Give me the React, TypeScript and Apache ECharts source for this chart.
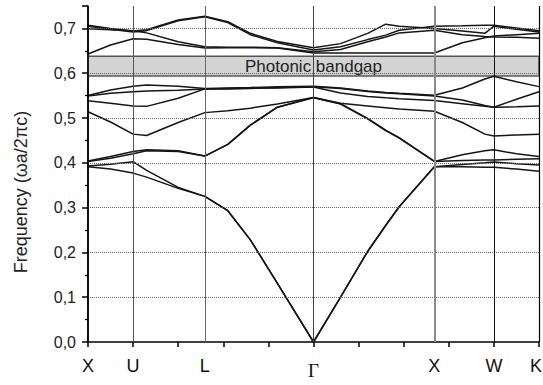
import React, { useEffect, useRef } from "react";
import * as echarts from "echarts";

// k-path positions (normalised path length 0..10)
const kPos = [0, 0.5, 1.0, 1.3, 2.0, 2.59, 3.1, 3.6, 4.2, 5.0, 5.6, 6.2, 6.6, 6.9, 7.68, 8.3, 8.8, 9.0, 9.5, 10];

// high-symmetry points
const symLabels = ["X", "U", "L", "Γ", "X", "W", "K"];
const symK = [0, 1.0, 2.59, 5.0, 7.68, 9.0, 10];

// y grid values
const yGrid = [0.1, 0.2, 0.3, 0.4, 0.5, 0.6, 0.7];

// photonic bandgap (lower, upper)
const gapRange = [0.594, 0.638];
const gapLabel = "Photonic bandgap";

// bands (frequency ωa/2πc) at kPos
const band1 = [0.391, 0.386, 0.377, 0.368, 0.343, 0.325, 0.293, 0.228, 0.131, 0, 0.100, 0.202, 0.260, 0.302, 0.391, 0.391, 0.390, 0.390, 0.386, 0.381];
const band2 = [0.393, 0.397, 0.4026, 0.383, 0.345, 0.325, 0.293, 0.228, 0.131, 0, 0.100, 0.202, 0.260, 0.302, 0.391, 0.396, 0.400, 0.402, 0.398, 0.395];
const band3 = [0.403, 0.410, 0.420, 0.427, 0.425, 0.415, 0.441, 0.484, 0.524, 0.545, 0.531, 0.498, 0.472, 0.455, 0.403, 0.405, 0.406, 0.406, 0.408, 0.409];
const band4 = [0.404, 0.414, 0.425, 0.429, 0.427, 0.415, 0.441, 0.484, 0.524, 0.546, 0.532, 0.499, 0.473, 0.456, 0.403, 0.418, 0.427, 0.429, 0.420, 0.414];
const band5 = [0.514, 0.491, 0.464, 0.461, 0.490, 0.512, 0.516, 0.522, 0.531, 0.546, 0.533, 0.527, 0.523, 0.520, 0.515, 0.490, 0.464, 0.460, 0.462, 0.464];
const band6 = [0.5386, 0.533, 0.5267, 0.526, 0.544, 0.565, 0.565, 0.566, 0.567, 0.569, 0.556, 0.548, 0.545, 0.543, 0.539, 0.532, 0.526, 0.524, 0.525, 0.5267];
const band7 = [0.549, 0.555, 0.5587, 0.560, 0.562, 0.565, 0.566, 0.567, 0.568, 0.570, 0.566, 0.559, 0.556, 0.554, 0.549, 0.540, 0.528, 0.524, 0.542, 0.5587];
const band8 = [0.550, 0.5625, 0.571, 0.5736, 0.571, 0.566, 0.567, 0.568, 0.570, 0.571, 0.567, 0.560, 0.557, 0.555, 0.551, 0.567, 0.587, 0.593, 0.581, 0.570];
const band9 = [0.643, 0.663, 0.677, 0.676, 0.664, 0.656, 0.657, 0.657, 0.656, 0.645, 0.645, 0.645, 0.645, 0.645, 0.645, 0.668, 0.679, 0.683, 0.686, 0.689];
const band10 = [0.699, 0.697, 0.695, 0.690, 0.670, 0.659, 0.658, 0.658, 0.657, 0.648, 0.653, 0.670, 0.681, 0.690, 0.696, 0.686, 0.682, 0.681, 0.680, 0.678];
const band11 = [0.705, 0.698, 0.692, 0.695, 0.717, 0.726, 0.713, 0.686, 0.668, 0.652, 0.659, 0.675, 0.685, 0.696, 0.705, 0.706, 0.707, 0.707, 0.701, 0.695];
const band12 = [0.707, 0.700, 0.694, 0.697, 0.719, 0.727, 0.715, 0.689, 0.671, 0.657, 0.666, 0.689, 0.7095, 0.705, 0.700, 0.694, 0.689, 0.705, 0.698, 0.692];

const bands = [band1, band2, band3, band4, band5, band6, band7, band8, band9, band10, band11, band12];

const FONT = "'Liberation Sans', Arial, sans-serif";
const SERIF = "'Liberation Serif', 'Times New Roman', serif";
const symLineStyles = [
  { color: "#000", width: 1.5 },
  { color: "#555", width: 1 },
  { color: "#666", width: 1 },
  { color: "#444", width: 1 },
  { color: "#8a8a8a", width: 2 },
  { color: "#111", width: 1 },
  { color: "#000", width: 1.2 },
];

export default function App() {
  const ref = useRef<HTMLDivElement>(null);
  useEffect(() => {
    if (!ref.current) return;
    const chart = echarts.init(ref.current, undefined, { renderer: "svg" });
    const bandSeries = bands.map((b, i) => ({
      type: "line",
      name: "band" + (i + 1),
      data: b.map((v, j) => [kPos[j], v]),
      showSymbol: false,
      symbol: "none",
      lineStyle: { color: "#151515", width: 1.5 },
      z: 4,
      silent: true,
    }));
    chart.setOption({
      animation: false,
      textStyle: { fontFamily: FONT },
      grid: { left: 88, right: 4, top: 6, bottom: 43 },
      xAxis: {
        type: "value",
        min: 0,
        max: 10,
        interval: 1,
        axisLine: { show: true, lineStyle: { color: "#000", width: 1.5 } },
        axisTick: { show: true, length: 5, lineStyle: { color: "#000", width: 1.5 } },
        axisLabel: { show: false },
        splitLine: { show: false },
      },
      yAxis: {
        type: "value",
        min: 0,
        max: 0.75,
        interval: 0.1,
        name: "Frequency (ωa/2πc)",
        nameLocation: "middle",
        nameGap: 58,
        nameTextStyle: { fontSize: 18, color: "#222", fontFamily: FONT, padding: [0, 36, 0, 0] },
        axisLine: { show: true, lineStyle: { color: "#000", width: 1.5 } },
        axisTick: { show: true, length: 6, lineStyle: { color: "#000", width: 1.5 } },
        minorTick: { show: true, splitNumber: 2, length: 3, lineStyle: { color: "#000", width: 1.2 } },
        axisLabel: {
          fontSize: 16,
          color: "#222",
          margin: 12,
          fontFamily: FONT,
          formatter: (v: number) => {
            const t = v * 10;
            return Math.abs(t - Math.round(t)) < 1e-6 ? v.toFixed(1).replace(".", ",") : "";
          },
        },
        splitLine: { show: false },
      },
      series: [
        {
          type: "line",
          name: "grid",
          data: [],
          z: 1,
          silent: true,
          markLine: {
            silent: true,
            symbol: ["none", "none"],
            label: { show: false },
            lineStyle: { color: "#666", type: "dotted", width: 1 },
            data: yGrid.map((y) => ({ yAxis: y })),
          },
        },
        {
          type: "line",
          name: "sym",
          data: [],
          z: 2,
          silent: true,
          markLine: {
            silent: true,
            symbol: ["none", "none"],
            data: symK.map((k, i) => ({
              xAxis: k,
              name: symLabels[i],
              lineStyle: { type: "solid", ...symLineStyles[i] },
              label: {
                show: true,
                position: "start",
                formatter: "{b}",
                color: "#111",
                distance: symLabels[i] === "Γ" ? 19 : 15,
                fontSize: symLabels[i] === "Γ" ? 19 : 18,
                fontFamily: symLabels[i] === "Γ" ? SERIF : FONT,
                padding: i === symK.length - 1 ? [0, 6, 0, 0] : 0,
              },
            })),
          },
        },
        {
          type: "line",
          name: "gap",
          data: [],
          z: 3,
          silent: true,
          markArea: {
            silent: true,
            itemStyle: { color: "#d3d3d3", borderColor: "#555", borderWidth: 1.5 },
            label: {
              show: true,
              position: "inside",
              color: "#222",
              fontSize: 17,
              fontFamily: FONT,
            },
            data: [[{ xAxis: 0, yAxis: gapRange[0], name: gapLabel }, { xAxis: 10, yAxis: gapRange[1] }]],
          },
        },
        ...bandSeries,
      ],
    });
    return () => chart.dispose();
  }, []);
  return <div ref={ref} style={{ width: 543, height: 385, position: "absolute", left: 0, top: 0 }} />;
}
